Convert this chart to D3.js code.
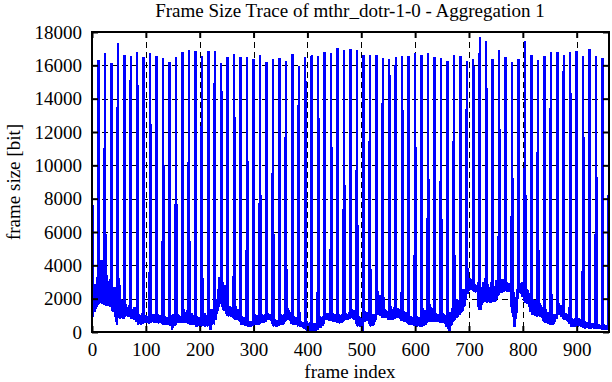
<!DOCTYPE html>
<html>
<head>
<meta charset="utf-8">
<script src="https://cdn.jsdelivr.net/npm/d3@7"></script>
<style>
  html, body { margin: 0; padding: 0; background: #fff; }
  svg { display: block; }
  text { font-family: "Liberation Serif", "Times New Roman", serif; fill: #000; }
</style>
</head>
<body>
<svg id="chart" width="612" height="382"></svg>
<script>
// ---- data ----
const chartTitle = "Frame Size Trace of mthr_dotr-1-0 - Aggregation 1";
const xLabel = "frame index";
const yLabel = "frame size [bit]";
const xTicks = [0, 100, 200, 300, 400, 500, 600, 700, 800, 900];
const yTicks = [0, 2000, 4000, 6000, 8000, 10000, 12000, 14000, 16000, 18000];
const xDomain = [0, 960];
const yDomain = [0, 18000];

// frame sizes in bit, one GOP (I B B P B B P B B P B B) per line, frame index = position
const frameSizes = [
  16700, 900, 1100, 2600, 1200, 1300, 2900, 1400, 1500, 3300, 1700, 1600,
  16320, 1700, 1800, 3900, 1750, 1900, 4300, 1800, 1700, 3600, 1650, 1800,
  16740, 1600, 1700, 3400, 1650, 1600, 2900, 1700, 1600, 3200, 1550, 1500,
  16140, 1400, 1300, 2500, 1200, 1350, 2700, 1100, 900, 2300, 400, 800,
  17340, 900, 850, 2800, 800, 900, 2000, 850, 950, 1900, 800, 900,
  16620, 950, 1000, 1700, 950, 1050, 1500, 1000, 950, 1600, 900, 1000,
  16560, 800, 850, 1400, 800, 900, 1500, 750, 800, 1300, 700, 650,
  16800, 500, 450, 1100, 500, 550, 1000, 450, 500, 1150, 500, 550,
  16500, 550, 600, 1000, 550, 600, 950, 600, 550, 900, 500, 600,
  16740, 600, 550, 1000, 600, 650, 1050, 550, 600, 950, 550, 600,
  16560, 560, 600, 1050, 580, 560, 950, 600, 650, 1000, 560, 520,
  16440, 450, 500, 950, 480, 500, 900, 450, 480, 850, 460, 500,
  16200, 400, 380, 1000, 420, 100, 1060, 400, 450, 950, 380, 420,
  16500, 560, 600, 1060, 580, 560, 1000, 600, 620, 950, 560, 580,
  16800, 560, 600, 1400, 620, 580, 1200, 560, 600, 1300, 580, 560,
  16920, 480, 460, 1100, 500, 460, 1160, 480, 500, 1000, 460, 480,
  16860, 380, 360, 950, 400, 380, 900, 360, 400, 850, 380, 360,
  16560, 380, 400, 1100, 360, 380, 1160, 400, 380, 1000, 360, 400,
  16860, 460, 480, 1300, 100, 460, 1360, 480, 500, 1200, 460, 600,
  16860, 700, 900, 2000, 1100, 1300, 2600, 1500, 1700, 3300, 1800, 1700,
  16140, 1600, 1500, 3000, 1400, 1300, 2800, 1250, 1300, 2400, 1100, 1000,
  16500, 1000, 960, 1560, 980, 1000, 1450, 960, 950, 1500, 900, 850,
  16680, 800, 760, 1560, 780, 800, 1400, 760, 740, 1300, 700, 650,
  16500, 480, 460, 960, 470, 500, 900, 460, 420, 850, 400, 380,
  16500, 380, 360, 660, 370, 360, 640, 380, 360, 620, 400, 420,
  16380, 460, 480, 1060, 460, 500, 1000, 480, 460, 950, 500, 520,
  16620, 560, 580, 1060, 600, 560, 1000, 580, 600, 1060, 620, 640,
  16200, 760, 780, 1160, 760, 800, 1100, 760, 740, 1050, 600, 500,
  16380, 380, 360, 760, 370, 400, 700, 360, 380, 740, 400, 420,
  16440, 460, 480, 1060, 500, 460, 1000, 480, 520, 1060, 600, 700,
  16260, 760, 800, 1460, 780, 760, 1300, 760, 700, 1200, 600, 500,
  16680, 480, 460, 960, 470, 500, 900, 460, 420, 850, 400, 380,
  15960, 360, 380, 660, 360, 340, 620, 300, 280, 600, 250, 200,
  16500, 180, 160, 660, 100, 40, 560, 120, 160, 600, 100, 80,
  16620, 60, 80, 560, 50, 100, 500, 80, 120, 560, 150, 200,
  16560, 260, 300, 960, 280, 340, 900, 380, 420, 960, 500, 600,
  16800, 760, 800, 1160, 760, 780, 1100, 760, 740, 1160, 700, 680,
  16740, 660, 700, 1160, 680, 660, 1100, 700, 660, 1050, 640, 600,
  17040, 560, 600, 1060, 580, 560, 1000, 600, 620, 1060, 650, 700,
  16920, 760, 800, 1160, 780, 760, 1100, 800, 820, 1200, 850, 860,
  16980, 860, 900, 1400, 880, 860, 1300, 800, 750, 1200, 600, 500,
  16920, 400, 360, 960, 380, 400, 900, 360, 380, 850, 50, 400,
  16620, 660, 700, 1260, 680, 660, 1200, 700, 680, 1150, 600, 500,
  16620, 380, 360, 1060, 400, 380, 1000, 420, 500, 1100, 700, 900,
  16620, 1060, 1100, 2460, 1150, 1060, 2200, 1100, 1000, 1900, 900, 880,
  16440, 860, 900, 1360, 880, 860, 1300, 900, 850, 1250, 800, 780,
  16380, 760, 800, 1560, 780, 760, 1400, 800, 820, 1500, 850, 860,
  16500, 860, 880, 1460, 900, 860, 1400, 880, 850, 1300, 760, 700,
  16560, 660, 700, 1260, 680, 660, 1200, 660, 640, 1100, 560, 500,
  16560, 460, 480, 960, 500, 460, 900, 480, 460, 850, 400, 380,
  16740, 360, 380, 960, 400, 360, 900, 380, 400, 850, 360, 380,
  16620, 380, 400, 1460, 360, 420, 1300, 450, 500, 1200, 560, 620,
  16740, 660, 700, 1700, 680, 660, 1500, 700, 680, 1400, 660, 640,
  16500, 660, 680, 1160, 700, 660, 1100, 680, 640, 1050, 600, 580,
  16440, 560, 600, 1160, 580, 560, 1100, 560, 500, 1000, 400, 300,
  16260, 260, 200, 1000, 40, 300, 1200, 400, 500, 1460, 600, 700,
  16620, 760, 800, 1600, 850, 900, 2000, 950, 1000, 1900, 1050, 1100,
  16560, 1160, 1200, 2200, 1300, 1400, 2560, 1500, 1700, 2500, 1900, 2100,
  16260, 2300, 2500, 3100, 2600, 2500, 3260, 2600, 2700, 3200, 2600, 2500,
  16380, 2400, 2500, 2900, 2450, 2400, 2800, 2500, 2450, 3000, 1500, 1300,
  17700, 1300, 1500, 2700, 1600, 1800, 3000, 1800, 1900, 2800, 1850, 1900,
  17460, 1800, 1760, 2900, 1800, 1850, 2700, 1800, 1760, 3000, 1850, 1900,
  16380, 1900, 1850, 2760, 1800, 1900, 3100, 2000, 2100, 2900, 2200, 2300,
  16920, 2360, 2400, 2960, 2380, 2400, 3200, 2450, 2400, 2900, 2500, 2450,
  16500, 2460, 2500, 3000, 2460, 2480, 2960, 2500, 2400, 2800, 2000, 1500,
  16200, 1200, 900, 2400, 600, 300, 2000, 800, 1200, 2600, 2000, 2300,
  16380, 2360, 2400, 2860, 2380, 2300, 3000, 2200, 2100, 2700, 2000, 1900,
  17460, 1760, 1800, 2600, 1760, 1700, 2500, 1600, 1500, 2300, 1300, 1200,
  16620, 1100, 1060, 2000, 1080, 1060, 1900, 1000, 1050, 1800, 980, 960,
  16320, 960, 1000, 1760, 980, 960, 1600, 900, 850, 1500, 700, 650,
  16560, 600, 560, 1400, 580, 600, 1200, 560, 540, 1100, 500, 480,
  16800, 460, 480, 1060, 500, 460, 1000, 600, 700, 1100, 800, 900,
  16800, 1060, 1100, 1760, 1080, 1060, 1600, 1000, 950, 1500, 900, 800,
  16620, 760, 780, 1160, 760, 740, 1100, 700, 650, 1000, 560, 500,
  16800, 380, 360, 860, 370, 360, 800, 380, 360, 820, 400, 380,
  16860, 360, 380, 860, 400, 360, 800, 380, 360, 760, 340, 320,
  16560, 260, 280, 660, 270, 260, 620, 280, 260, 600, 250, 260,
  16980, 260, 250, 560, 270, 260, 520, 240, 260, 500, 250, 240,
  16560, 260, 250, 460, 240, 260, 440, 250, 230, 420, 220, 200,
  16440, 180, 160, 460, 170, 160, 420, 180, 160, 400, 150, 160,
  16680
];

// ---- layout ----
const W = 612, H = 382;
const plot = { left: 92, right: 609, top: 32, bottom: 332 };
const fontSize = 19;

const svg = d3.select("#chart");

const x = d3.scaleLinear().domain(xDomain).range([plot.left, plot.right]);
const y = d3.scaleLinear().domain(yDomain).range([plot.bottom, plot.top]);

// grid (dashed)
const grid = svg.append("g").attr("stroke", "#000").attr("stroke-width", 1)
  .attr("stroke-dasharray", "6,4").attr("shape-rendering", "crispEdges");
grid.selectAll("line.gx").data(xTicks.filter(d => d > xDomain[0] && d < xDomain[1]))
  .join("line").attr("class", "gx")
  .attr("x1", d => Math.round(x(d)) + 0.5).attr("x2", d => Math.round(x(d)) + 0.5)
  .attr("y1", plot.top).attr("y2", plot.bottom);
grid.selectAll("line.gy").data(yTicks.filter(d => d > yDomain[0] && d < yDomain[1]))
  .join("line").attr("class", "gy")
  .attr("y1", d => Math.round(y(d)) + 0.5).attr("y2", d => Math.round(y(d)) + 0.5)
  .attr("x1", plot.left).attr("x2", plot.right);

// data line
svg.append("clipPath").attr("id", "clip").append("rect")
  .attr("x", plot.left).attr("y", plot.top)
  .attr("width", plot.right - plot.left).attr("height", plot.bottom - plot.top);

const line = d3.line().x((d, i) => x(i)).y(d => y(d));
svg.append("path")
  .datum(frameSizes)
  .attr("clip-path", "url(#clip)")
  .attr("fill", "none")
  .attr("stroke", "#0000ff")
  .attr("stroke-width", 2.4)
  .attr("stroke-linejoin", "bevel")
  .attr("shape-rendering", "crispEdges")
  .attr("d", line);

// axes
function styleAxis(g) {
  g.select(".domain").remove();
  g.selectAll(".tick line").attr("stroke", "#000").attr("stroke-width", 2);
  g.selectAll("text").attr("font-size", fontSize).attr("font-family", null).attr("fill", "#000");
}
svg.append("g").attr("transform", `translate(0,${plot.bottom})`)
  .call(d3.axisBottom(x).tickValues(xTicks).tickSize(-6).tickPadding(11).tickFormat(d3.format("d")))
  .call(styleAxis);
svg.append("g").attr("transform", `translate(0,${plot.top})`)
  .call(d3.axisTop(x).tickValues(xTicks).tickSize(-6).tickFormat(""))
  .call(styleAxis);
svg.append("g").attr("transform", `translate(${plot.left},0)`)
  .call(d3.axisLeft(y).tickValues(yTicks).tickSize(-6).tickPadding(10).tickFormat(d3.format("d")))
  .call(styleAxis);
svg.append("g").attr("transform", `translate(${plot.right},0)`)
  .call(d3.axisRight(y).tickValues(yTicks).tickSize(-6).tickFormat(""))
  .call(styleAxis);

// border
svg.append("rect")
  .attr("x", plot.left).attr("y", plot.top)
  .attr("width", plot.right - plot.left).attr("height", plot.bottom - plot.top)
  .attr("fill", "none").attr("stroke", "#000").attr("stroke-width", 2);

// titles
svg.append("text").attr("x", 350).attr("y", 17).attr("text-anchor", "middle")
  .attr("font-size", fontSize).text(chartTitle);
svg.append("text").attr("x", 350).attr("y", 377.5).attr("text-anchor", "middle")
  .attr("font-size", fontSize).text(xLabel);
svg.append("text").attr("transform", `translate(20,${(plot.top + plot.bottom) / 2}) rotate(-90)`)
  .attr("text-anchor", "middle").attr("font-size", fontSize).text(yLabel);
</script>
</body>
</html>
